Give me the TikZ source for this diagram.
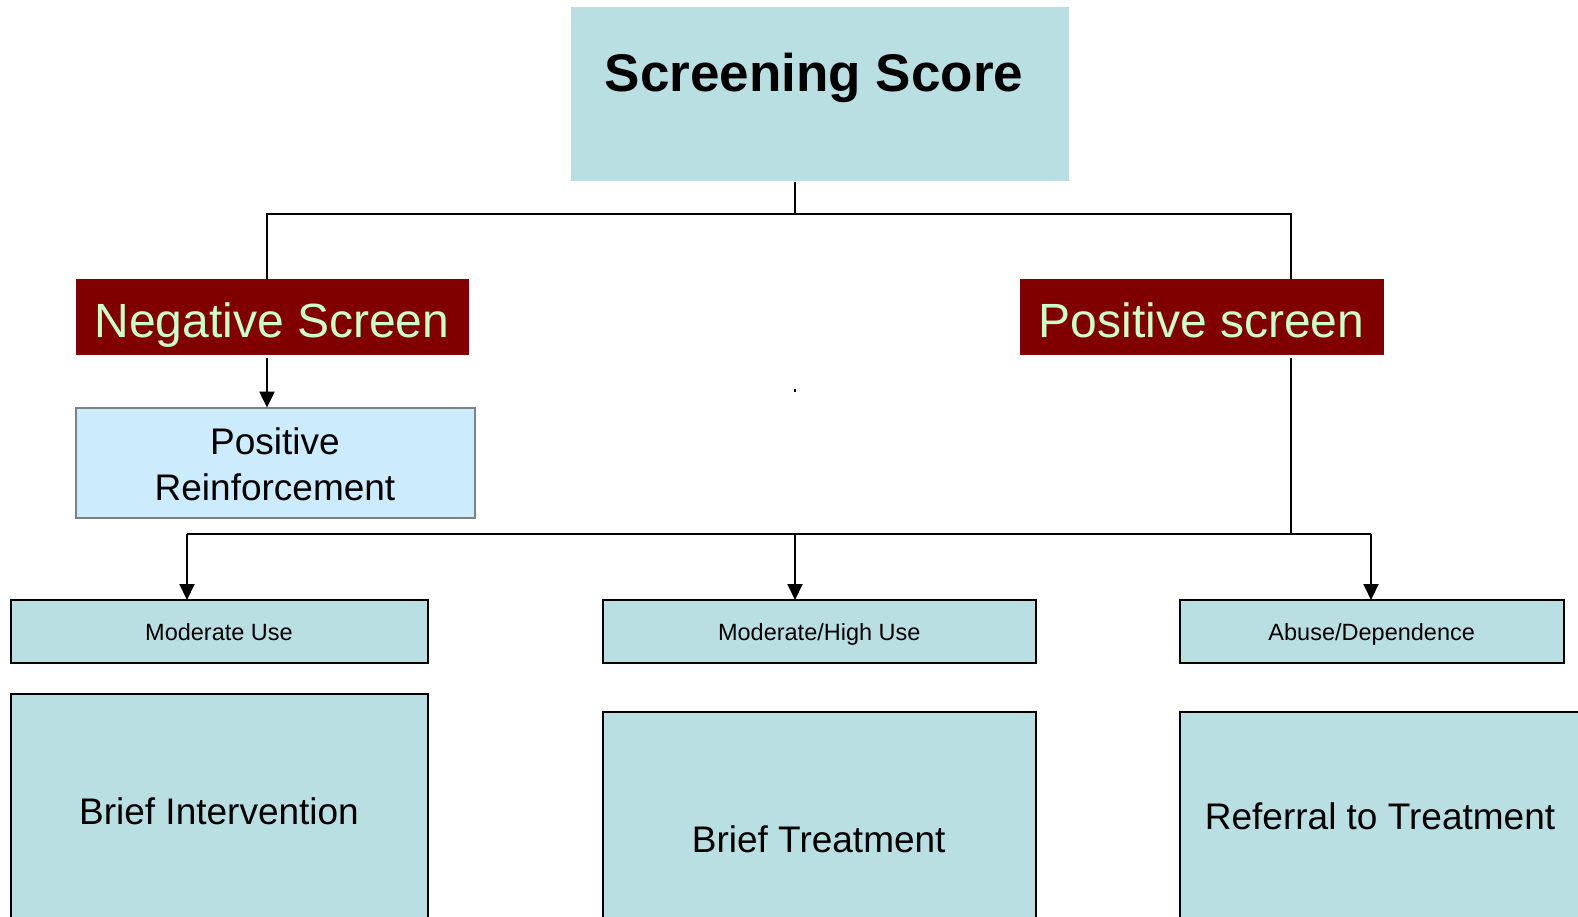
\documentclass[tikz,border=0pt]{standalone}
\usepackage{fontspec}
\setmainfont{Liberation Sans}
\usetikzlibrary{arrows.meta}
\definecolor{teal1}{HTML}{B9DFE3}
\definecolor{lblue}{HTML}{CCEBFC}
\definecolor{dred}{HTML}{800000}
\definecolor{lgreen}{HTML}{CCFFCC}
\tikzset{
  box/.style={rectangle, inner sep=0pt, outer sep=0pt, anchor=north west},
  tealbox/.style={box, fill=teal1, draw=black, line width=2pt},
  redbox/.style={box, fill=dred},
  conn/.style={line width=2pt, black},
  arr/.style={conn, -{Triangle[width=15pt,length=16pt]}},
  lbl/.style={inner sep=0pt, anchor=base}
}
\begin{document}
\begin{tikzpicture}[x=1pt,y=-1pt]
\clip (0,0) rectangle (1578,917);
\fill[white] (0,0) rectangle (1578,917);
% boxes
\node[box, fill=teal1, minimum width=498pt, minimum height=174pt] (top) at (571,7) {};
\node[lbl, font=\fontsize{53}{60}\selectfont\bfseries] (toptxt) at (814,92) {Screening Score};
\node[redbox, minimum width=393.5pt, minimum height=76pt] (neg) at (75.5,279) {};
\node[lbl, text=lgreen, font=\fontsize{48}{52}\selectfont] (negtxt) at (272,337) {Negative Screen};
\node[redbox, minimum width=364.5pt, minimum height=76pt] (pos) at (1019.5,279) {};
\node[lbl, text=lgreen, font=\fontsize{48}{52}\selectfont] (postxt) at (1201.7,337) {Positive screen};
\node[box, fill=lblue, draw=gray, line width=2pt, minimum width=399.5pt, minimum height=110.4pt] (reinf) at (75.5,407.6) {};
\node[lbl, font=\fontsize{37}{40}\selectfont] (reinf1) at (275,454) {Positive};
\node[lbl, font=\fontsize{37}{40}\selectfont] (reinf2) at (275,500) {Reinforcement};
\node[tealbox, minimum width=417pt, minimum height=63pt] (mod) at (11,600) {};
\node[lbl, font=\fontsize{23.5}{26}\selectfont] (modtxt) at (219,640) {Moderate Use};
\node[tealbox, minimum width=432.6pt, minimum height=63pt] (modhigh) at (603,600) {};
\node[lbl, font=\fontsize{23.5}{26}\selectfont] (modhightxt) at (819.3,640) {Moderate/High Use};
\node[tealbox, minimum width=384.5pt, minimum height=63pt] (abuse) at (1179.5,600) {};
\node[lbl, font=\fontsize{23.5}{26}\selectfont] (abusetxt) at (1371.7,640) {Abuse/Dependence};
\node[tealbox, minimum width=417pt, minimum height=300pt] (bi) at (11,694) {};
\node[lbl, font=\fontsize{37}{42}\selectfont] (bitxt) at (219,824) {Brief Intervention};
\node[tealbox, minimum width=432.6pt, minimum height=300pt] (bt) at (603,711.5) {};
\node[lbl, font=\fontsize{37}{42}\selectfont] (bttxt) at (818.7,852) {Brief Treatment};
\node[tealbox, minimum width=420pt, minimum height=300pt] (ref) at (1179.5,711.5) {};
\node[lbl, font=\fontsize{37}{42}\selectfont] (reftxt) at (1380,829) {Referral to Treatment};
% junction coordinates
\coordinate (jt) at (795,214);
\coordinate (hl) at (267,214);
\coordinate (hr) at (1291,214);
\coordinate (j2r) at (1291,534);
\coordinate (j2l) at (187,534);
\coordinate (j2m) at (795,534);
\coordinate (j2e) at (1371,534);
% connectors
\draw[conn] ([yshift=-1pt]top.south -| jt) -- (jt);
\draw[conn] (hl |- neg.north) -- (hl) -- (hr) -- (hr |- pos.north);
\draw[arr] ([yshift=-3pt]neg.south -| hl) -- (reinf.north -| hl);
\draw[conn] ([yshift=-3pt]pos.south -| j2r) -- (j2r);
\draw[conn] (j2l) -- (j2e);
\draw[arr] (j2l) -- (mod.north -| j2l);
\draw[arr] (j2m) -- (modhigh.north -| j2m);
\draw[arr] (j2e) -- (abuse.north -| j2e);
\draw[line width=1.5pt] (795,389) -- (795,392);
\end{tikzpicture}
\end{document}
